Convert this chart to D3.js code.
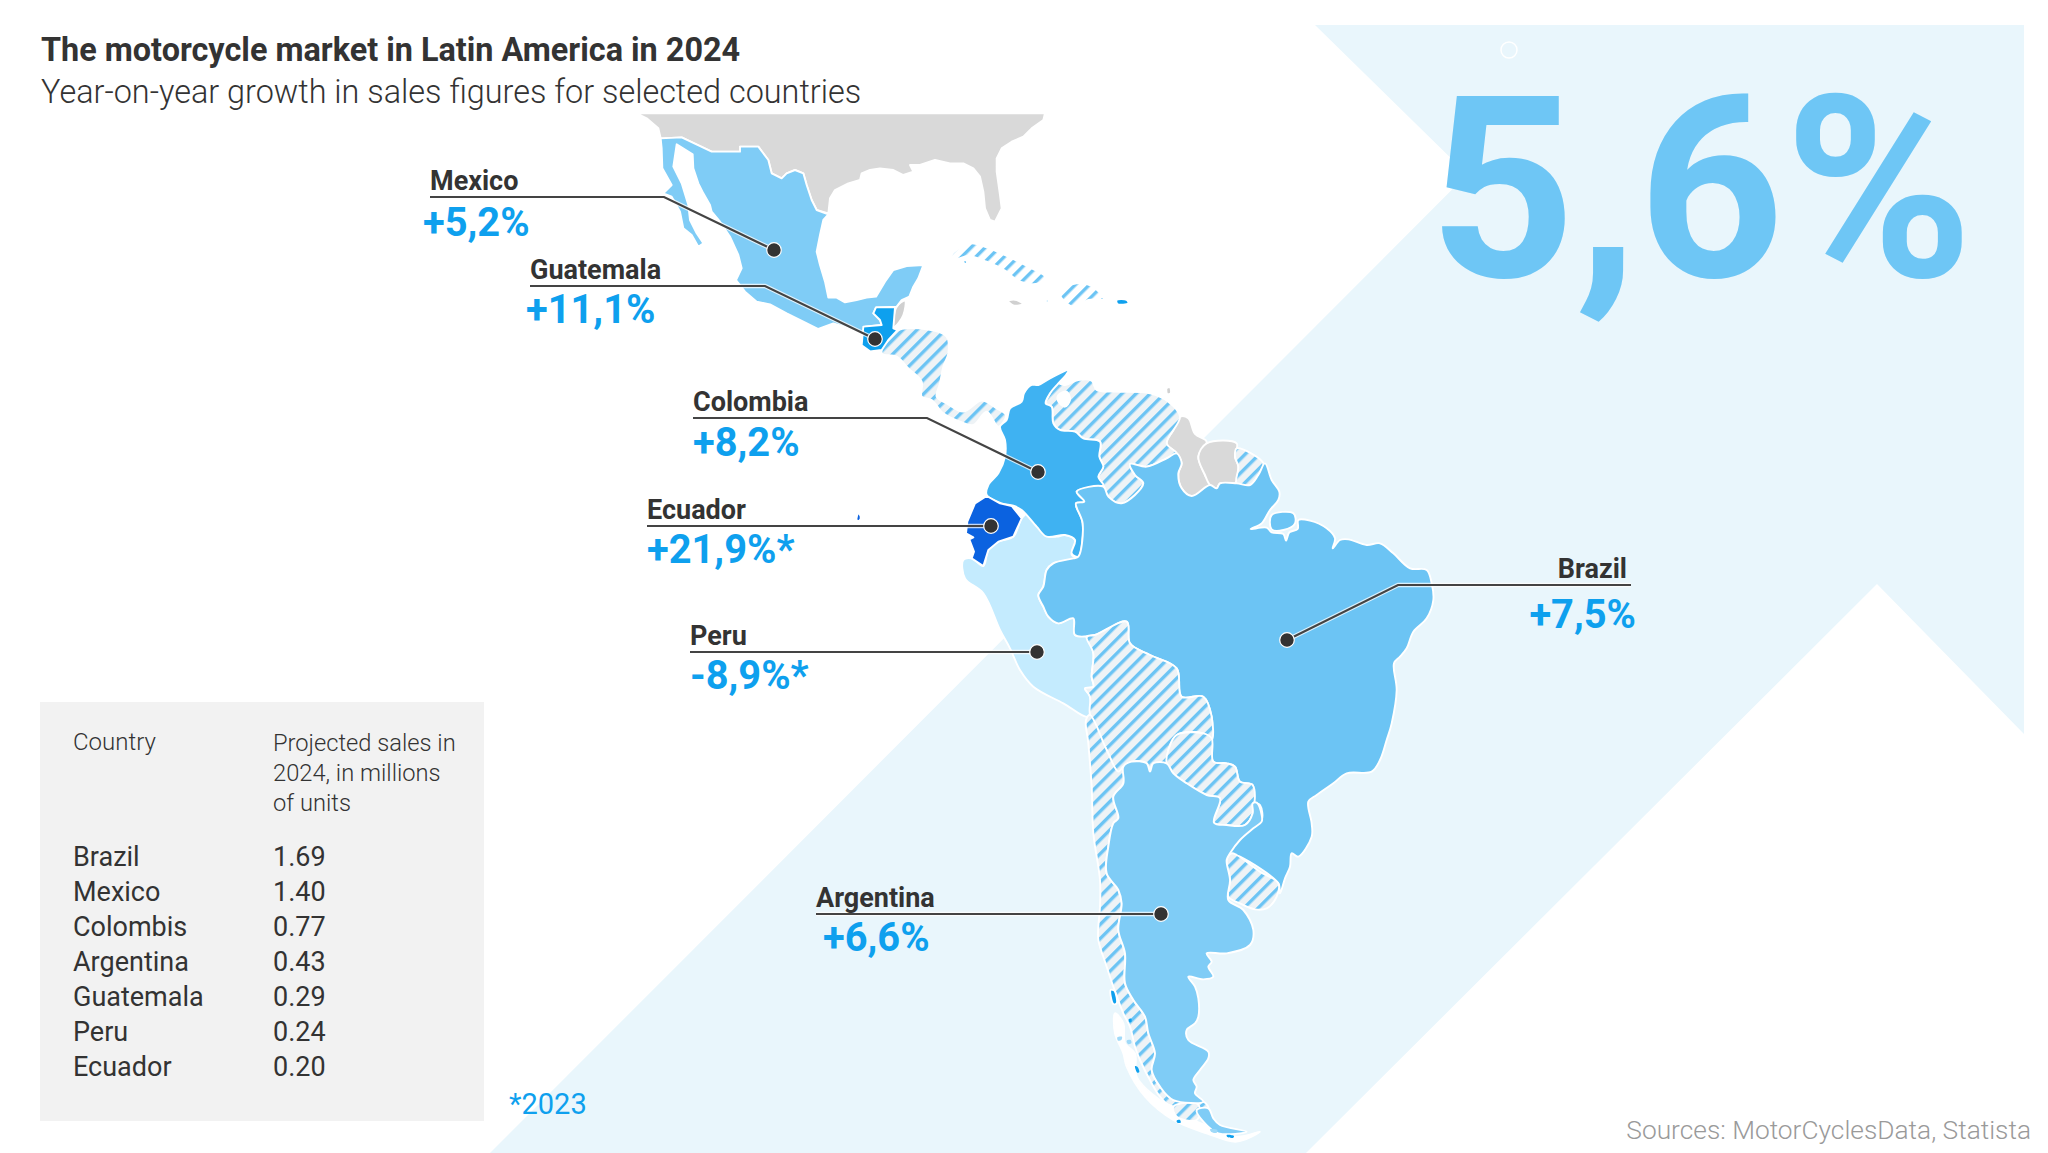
<!DOCTYPE html>
<html>
<head>
<meta charset="utf-8">
<script src="https://cdn.jsdelivr.net/npm/d3@7"></script>
<style>
  html, body { margin: 0; padding: 0; background: #fff; }
  text { font-family: Roboto, sans-serif; }
</style>
</head>
<body>
<svg id="chart" width="2048" height="1153"></svg>
<script>
// Values as printed in the graphic
var overallGrowth = "5,6%";
var calloutCountries = ["Mexico", "Guatemala", "Colombia", "Ecuador", "Peru", "Brazil", "Argentina"];
var calloutGrowth = [5.2, 11.1, 8.2, 21.9, -8.9, 7.5, 6.6];
var calloutIs2023 = [false, false, false, true, true, false, false];

var tableCountries = ["Brazil", "Mexico", "Colombis", "Argentina", "Guatemala", "Peru", "Ecuador"];
var tableSales = [1.69, 1.40, 0.77, 0.43, 0.29, 0.24, 0.20];

// Country outlines on a 6144 x 3459 grid
var usa = [[1910,340],[3135,340],[3130,360],[3095,385],[3070,410],[3035,425],[3005,445],[2990,475],[2990,515],[3000,585],[3005,625],[2985,665],[2970,660],[2955,625],[2950,575],[2940,530],[2920,505],[2890,490],[2850,490],[2805,480],[2760,495],[2730,495],[2740,515],[2710,525],[2680,510],[2640,505],[2610,510],[2585,520],[2580,540],[2545,550],[2505,570],[2490,595],[2485,640],[2450,630],[2435,600],[2420,555],[2410,520],[2385,510],[2360,520],[2345,535],[2315,520],[2305,480],[2275,440],[2220,440],[2220,455],[2135,455],[2045,412],[1982,415],[1975,385],[1940,355]];
var mexico = [[1982,415],[2045,412],[2135,455],[2220,455],[2220,440],[2275,440],[2305,480],[2315,520],[2345,535],[2360,520],[2385,510],[2410,520],[2420,555],[2435,600],[2450,630],[2485,643],[2470,660],[2460,705],[2450,755],[2460,795],[2475,845],[2485,893],[2510,893],[2535,907],[2570,900],[2600,893],[2628,890],[2655,845],[2680,810],[2720,798],[2770,795],[2755,835],[2740,860],[2728,890],[2705,900],[2690,920],[2628,922],[2620,940],[2640,960],[2645,975],[2595,980],[2590,1003],[2550,985],[2500,970],[2455,987],[2410,965],[2360,940],[2310,913],[2270,905],[2235,875],[2208,840],[2225,805],[2215,765],[2190,710],[2160,665],[2135,635],[2130,615],[2110,580],[2095,550],[2080,505],[2078,463],[2030,433],[2020,500],[2045,550],[2065,615],[2070,660],[2090,700],[2110,730],[2095,740],[2075,705],[2050,685],[2040,635],[2015,590],[1990,580],[2015,555],[1987,505],[1985,445]];
var guatemala = [[2628,922],[2685,922],[2680,985],[2693,990],[2665,1020],[2645,1050],[2610,1054],[2585,1036],[2590,980],[2645,975],[2640,960],[2620,940]];
var belize = [[2690,920],[2715,902],[2710,945],[2685,980],[2680,980]];
var centralAmerica = [[2685,995],[2780,988],[2840,1010],[2845,1060],[2830,1100],[2820,1150],[2810,1190],[2840,1210],[2890,1235],[2945,1202],[2990,1225],[3018,1245],[2995,1280],[2960,1235],[2920,1275],[2880,1265],[2830,1240],[2795,1200],[2765,1190],[2765,1145],[2725,1105],[2690,1070],[2645,1060]];
var cuba = [[2855,765],[2910,730],[2960,742],[3020,768],[3085,800],[3135,830],[3115,850],[3060,845],[3015,812],[2960,785],[2905,768],[2865,778]];
var hispaniola = [[3180,875],[3230,850],[3275,858],[3310,895],[3265,900],[3220,920],[3185,895]];
var jamaica = [[3025,902],[3050,900],[3068,912],[3040,916]];
var puertoRico = [[3350,900],[3380,900],[3385,910],[3352,912]];
var trinidad = [[3500,1165],[3510,1162],[3512,1180],[3502,1182]];
var isleOfYouth = [[2890,782],[2900,782],[2900,790],[2892,790]];
var bahamasDots = [[[3138,900],[3146,900],[3146,906],[3138,906]], [[3172,903],[3182,903],[3182,907],[3172,907]], [[3302,892],[3310,892],[3310,898],[3302,898]]];
var colombia = [[3205,1110],[3150,1135],[3115,1155],[3095,1155],[3072,1180],[3065,1205],[3030,1225],[3020,1260],[3000,1280],[3015,1320],[3015,1370],[2995,1420],[2965,1455],[2960,1485],[3005,1510],[3040,1517],[3065,1530],[3110,1580],[3140,1610],[3195,1605],[3225,1620],[3215,1660],[3235,1670],[3248,1570],[3228,1510],[3253,1505],[3230,1475],[3290,1460],[3310,1455],[3295,1430],[3310,1400],[3298,1370],[3300,1325],[3250,1315],[3225,1295],[3180,1290],[3160,1270],[3155,1220],[3137,1210],[3150,1180],[3175,1150],[3200,1122]];
var venezuela = [[3137,1210],[3155,1220],[3160,1270],[3180,1290],[3225,1295],[3250,1315],[3300,1325],[3298,1370],[3310,1400],[3295,1430],[3310,1455],[3325,1490],[3365,1510],[3430,1450],[3405,1425],[3390,1392],[3440,1400],[3500,1375],[3530,1360],[3500,1330],[3540,1250],[3505,1205],[3450,1180],[3350,1175],[3290,1170],[3275,1142],[3235,1140],[3195,1155],[3170,1150],[3150,1180]];
var lakeMaracaibo = [[3175,1185],[3200,1175],[3210,1200],[3195,1220],[3175,1205]];
var guyana = [[3540,1250],[3565,1255],[3585,1302],[3620,1325],[3595,1370],[3615,1425],[3630,1455],[3575,1488],[3545,1465],[3535,1420],[3545,1390],[3530,1360],[3500,1330],[3520,1290]];
var suriname = [[3620,1330],[3710,1330],[3705,1370],[3715,1400],[3705,1450],[3660,1450],[3650,1465],[3630,1455],[3615,1425],[3595,1370]];
var frenchGuiana = [[3710,1345],[3790,1390],[3775,1425],[3750,1455],[3710,1450],[3715,1400],[3705,1370]];
var brazil = [[3795,1390],[3815,1440],[3838,1475],[3835,1500],[3810,1530],[3785,1570],[3752,1587],[3800,1583],[3815,1597],[3850,1602],[3858,1622],[3868,1597],[3893,1587],[3895,1560],[3930,1562],[3980,1585],[4005,1615],[3998,1645],[4020,1620],[4045,1618],[4100,1635],[4140,1630],[4180,1660],[4230,1705],[4280,1710],[4295,1750],[4300,1800],[4280,1855],[4240,1895],[4220,1945],[4200,1970],[4182,1990],[4190,2070],[4175,2170],[4160,2220],[4140,2280],[4115,2315],[4040,2320],[4000,2350],[3950,2385],[3925,2405],[3935,2470],[3935,2510],[3895,2570],[3875,2560],[3870,2600],[3855,2635],[3840,2680],[3835,2650],[3720,2570],[3690,2560],[3725,2510],[3760,2475],[3785,2460],[3780,2415],[3760,2405],[3758,2355],[3720,2345],[3705,2300],[3680,2290],[3640,2285],[3635,2215],[3635,2150],[3610,2090],[3545,2090],[3530,2005],[3450,1965],[3390,1930],[3380,1865],[3285,1905],[3225,1905],[3220,1855],[3175,1870],[3145,1850],[3130,1820],[3115,1785],[3130,1760],[3140,1710],[3160,1690],[3220,1675],[3235,1670],[3248,1570],[3228,1510],[3253,1505],[3230,1475],[3310,1460],[3325,1490],[3365,1510],[3430,1450],[3405,1425],[3390,1392],[3440,1400],[3500,1375],[3530,1360],[3545,1390],[3535,1420],[3545,1465],[3575,1488],[3630,1455],[3650,1465],[3660,1450],[3710,1450],[3750,1455],[3775,1425]];
var marajo = [[3815,1545],[3880,1540],[3885,1570],[3850,1590],[3815,1588]];
var peru = [[2890,1680],[2915,1675],[2950,1698],[2965,1650],[2995,1625],[3040,1610],[3065,1555],[3085,1540],[3135,1605],[3170,1610],[3195,1605],[3225,1620],[3215,1665],[3230,1675],[3160,1690],[3140,1710],[3130,1760],[3115,1785],[3130,1820],[3145,1850],[3175,1870],[3220,1855],[3225,1905],[3260,1910],[3280,1960],[3275,2030],[3280,2060],[3255,2065],[3270,2090],[3265,2150],[3190,2110],[3100,2060],[3060,2010],[3030,1945],[3000,1890],[2950,1780],[2895,1735]];
var ecuador = [[2960,1488],[3000,1510],[3035,1518],[3065,1555],[3040,1610],[2995,1625],[2965,1650],[2950,1698],[2915,1675],[2922,1655],[2908,1618],[2920,1612],[2898,1600],[2902,1565],[2925,1510]];
var galapagos = [[2575,1540],[2582,1550],[2578,1562],[2570,1560]];
var bolivia = [[3260,1910],[3285,1905],[3380,1865],[3390,1930],[3450,1965],[3530,2005],[3545,2090],[3610,2090],[3635,2150],[3635,2220],[3610,2200],[3530,2205],[3505,2250],[3500,2290],[3460,2290],[3450,2315],[3440,2290],[3395,2285],[3355,2315],[3320,2250],[3270,2145],[3270,2090],[3255,2065],[3280,2060],[3275,2030],[3280,1960]];
var paraguay = [[3505,2250],[3530,2205],[3610,2200],[3635,2215],[3640,2285],[3680,2290],[3705,2300],[3720,2345],[3758,2355],[3758,2440],[3735,2475],[3680,2475],[3642,2468],[3660,2395],[3620,2385],[3560,2350],[3520,2320],[3500,2290]];
var uruguay = [[3695,2560],[3710,2565],[3780,2615],[3835,2650],[3830,2690],[3800,2725],[3765,2728],[3720,2710],[3685,2690],[3690,2640],[3680,2580]];
var argentina = [[3370,2300],[3395,2285],[3440,2290],[3450,2315],[3460,2290],[3500,2290],[3520,2320],[3560,2350],[3620,2385],[3660,2395],[3642,2468],[3680,2475],[3735,2475],[3758,2440],[3758,2410],[3770,2408],[3785,2445],[3785,2465],[3760,2485],[3720,2520],[3690,2560],[3680,2580],[3690,2640],[3685,2700],[3730,2730],[3760,2790],[3750,2835],[3680,2860],[3620,2860],[3635,2885],[3625,2900],[3640,2930],[3610,2938],[3565,2930],[3585,2960],[3595,2995],[3595,3050],[3585,3070],[3560,3090],[3565,3120],[3625,3155],[3625,3175],[3600,3210],[3580,3240],[3590,3260],[3585,3280],[3610,3305],[3520,3300],[3480,3260],[3455,3210],[3465,3160],[3445,3100],[3435,3050],[3400,3000],[3375,2950],[3375,2860],[3355,2790],[3365,2710],[3355,2670],[3320,2620],[3325,2540],[3340,2470],[3355,2455],[3340,2390],[3370,2350]];
var fuegoArgentina = [[3590,3330],[3625,3325],[3640,3355],[3660,3375],[3740,3395],[3655,3400],[3610,3365]];
var chile = [[3270,2145],[3320,2250],[3355,2315],[3370,2300],[3370,2350],[3340,2390],[3355,2455],[3340,2470],[3325,2540],[3320,2620],[3355,2670],[3365,2710],[3355,2790],[3375,2860],[3375,2950],[3400,3000],[3435,3050],[3445,3100],[3465,3160],[3455,3210],[3480,3260],[3520,3300],[3610,3305],[3625,3325],[3520,3325],[3480,3290],[3455,3250],[3420,3180],[3405,3140],[3390,3080],[3370,3040],[3340,2960],[3320,2900],[3295,2820],[3295,2780],[3300,2720],[3300,2640],[3280,2500],[3275,2360],[3265,2230],[3258,2160]];
var chileIslands = [[3345,3040],[3370,3070],[3375,3130],[3405,3160],[3410,3230],[3480,3300],[3540,3330],[3580,3360],[3630,3380],[3710,3410],[3780,3395],[3710,3425],[3620,3400],[3520,3360],[3435,3290],[3380,3200],[3370,3160],[3345,3100]];
var fuegoChile = [[3520,3320],[3590,3310],[3600,3330],[3590,3360],[3530,3350]];
var lakeGeneralCarrera = [[3332,2970],[3343,2972],[3350,3010],[3340,3012]];
var islandBitsPale = [[[3352,3112],[3366,3110],[3364,3120],[3354,3122]], [[3380,3122],[3392,3120],[3394,3130],[3384,3132]], [[3630,3388],[3652,3390],[3650,3398],[3634,3396]]];
var islandBitsBright = [[[3386,3058],[3394,3056],[3394,3066],[3388,3066]], [[3405,3198],[3412,3200],[3418,3216],[3412,3218]], [[3530,3362],[3540,3360],[3542,3368],[3532,3368]], [[3680,3405],[3702,3408],[3700,3413],[3682,3411]]];

// Background chevron, same grid
var chevron = [[3945,75],[6072,75],[6072,2202],[5631,1752],[3918,3459],[1470,3459],[4402,523]];

// Order is important: drawn last is on top
var shapes = [
    { points: usa, fill: "#d9d9d9", sharp: true },
    { points: belize, fill: "#d0d0d0" },
    { points: jamaica, fill: "#d0d0d0" },
    { points: trinidad, fill: "#d0d0d0" },
    { points: guyana, fill: "#d9d9d9" },
    { points: suriname, fill: "#d9d9d9" },
    { points: centralAmerica, fill: "url(#hatch)" },
    { points: cuba, fill: "url(#hatchBare)" },
    { points: hispaniola, fill: "url(#hatchBare)" },
    { points: isleOfYouth, fill: "#6cc4f4" },
    { points: bahamasDots[0], fill: "#6cc4f4" },
    { points: bahamasDots[1], fill: "#6cc4f4" },
    { points: bahamasDots[2], fill: "#6cc4f4" },
    { points: puertoRico, fill: "#0ea0ee" },
    { points: venezuela, fill: "url(#hatch)" },
    { points: lakeMaracaibo, fill: "#fff" },
    { points: frenchGuiana, fill: "url(#hatch)" },
    { points: peru, fill: "#c4ebfe" },
    { points: colombia, fill: "#3fb2f2" },
    { points: brazil, fill: "#6cc4f4" },
    { points: marajo, fill: "#6cc4f4" },
    { points: bolivia, fill: "url(#hatch)" },
    { points: paraguay, fill: "url(#hatch)" },
    { points: uruguay, fill: "url(#hatch)" },
    { points: chile, fill: "url(#hatch)" },
    { points: chileIslands, fill: "#fff" },
    { points: fuegoChile, fill: "url(#hatch)" },
    { points: argentina, fill: "#7fccf6" },
    { points: fuegoArgentina, fill: "#7fccf6" },
    { points: mexico, fill: "#7fccf6", sharp: true },
    { points: guatemala, fill: "#0ea0ee", sharp: true },
    { points: ecuador, fill: "#0b62e0", sharp: true },
    { points: galapagos, fill: "#0b62e0" },
    { points: lakeGeneralCarrera, fill: "#0ea0ee" }
];
islandBitsPale.forEach(function (p) { shapes.push({ points: p, fill: "#9fd9f8", bare: true }); });
islandBitsBright.forEach(function (p) { shapes.push({ points: p, fill: "#0ea0ee", bare: true }); });

// Callout layout: label start, elbow and dot on the 2048 px page
var calloutLabelX = [430, 530, 693, 647, 690, 1627, 816];
var calloutValueX = [423, 526, 693, 647, 690, 1636, 823];
var calloutLineY = [197, 286, 418, 526, 652, 585, 914];
var calloutValueY = [236, 323, 456, 563, 689, 628, 951];
var calloutLineEnd = [664, 765, 927, 991, 1037, 1398, 1161];
var calloutDotX = [774, 875, 1038, 991, 1037, 1287, 1161];
var calloutDotY = [250, 339, 472, 526, 652, 640, 914];
var calloutRight = [false, false, false, false, false, true, false];
var calloutLineStart = [430, 530, 693, 647, 690, 1631, 816];

var svg = d3.select("#chart");
var dark = "#333", blue = "#0ea0ee";

// Grid to page
var gridX = d3.scaleLinear().domain([0, 6144]).range([0, 2048]);
var gridY = d3.scaleLinear().domain([0, 3459]).range([0, 1153]);
var outline = d3.line()
    .x(function (d) { return gridX(d[0]); })
    .y(function (d) { return gridY(d[1]); })
    .curve(d3.curveLinearClosed);
var softOutline = d3.line()
    .x(function (d) { return gridX(d[0]); })
    .y(function (d) { return gridY(d[1]); })
    .curve(d3.curveCatmullRomClosed.alpha(0.5));

// Hatching for countries without figures
var defs = svg.append("defs");
function addHatch(id, ground) {
    var p = defs.append("pattern")
        .attr("id", id)
        .attr("patternUnits", "userSpaceOnUse")
        .attr("width", 10).attr("height", 10)
        .attr("patternTransform", "rotate(45)");
    p.append("rect").attr("width", 10).attr("height", 10).attr("fill", ground);
    p.append("rect").attr("width", 3.4).attr("height", 10).attr("fill", "#6cc4f4");
}
addHatch("hatch", "#eef3f6");
addHatch("hatchBare", "#fff");

svg.append("path")
    .attr("d", outline(chevron))
    .attr("fill", "#e9f6fc");

svg.append("circle")
    .attr("cx", 1509).attr("cy", 50).attr("r", 8)
    .attr("fill", "none").attr("stroke", "#fff").attr("stroke-width", 1.5);

svg.append("text")
    .attr("x", 1429).attr("y", 277)
    .attr("font-size", 255).attr("font-weight", 700)
    .attr("fill", "#6ec6f5")
    .text(overallGrowth);

svg.append("g").attr("class", "map")
    .selectAll("path")
    .data(shapes)
    .join("path")
    .attr("d", function (d) { return d.sharp ? outline(d.points) : softOutline(d.points); })
    .attr("fill", function (d) { return d.fill; })
    .attr("stroke", function (d) { return d.bare ? "none" : "#fff"; })
    .attr("stroke-width", 1.9)
    .attr("stroke-linejoin", "round");

// Title
svg.append("text")
    .attr("x", 41).attr("y", 60.7)
    .attr("font-size", 32.4).attr("font-weight", 700).attr("fill", dark)
    .text("The motorcycle market in Latin America in 2024");
svg.append("text")
    .attr("x", 41).attr("y", 102.7)
    .attr("font-size", 32.4).attr("font-weight", 300).attr("fill", dark)
    .text("Year-on-year growth in sales figures for selected countries");

// Callouts
function growthLabel(i) {
    var v = calloutGrowth[i];
    var s = (v > 0 ? "+" : "") + d3.format(".1f")(v).replace(".", ",").replace("\u2212", "-") + "%";
    return calloutIs2023[i] ? s + "*" : s;
}

var callouts = svg.append("g").attr("class", "callouts")
    .selectAll("g")
    .data(calloutCountries)
    .join("g");

function leaderPoints(i) {
    return [
        [calloutLineStart[i], calloutLineY[i]],
        [calloutLineEnd[i], calloutLineY[i]],
        [calloutDotX[i], calloutDotY[i]]
    ];
}

callouts.append("path")
    .attr("d", function (d, i) { return d3.line()(leaderPoints(i)); })
    .attr("fill", "none").attr("stroke", "#fff").attr("stroke-opacity", 0.75).attr("stroke-width", 4.5);
callouts.append("path")
    .attr("d", function (d, i) { return d3.line()(leaderPoints(i)); })
    .attr("fill", "none").attr("stroke", "#444").attr("stroke-width", 2.2);
callouts.append("circle")
    .attr("cx", function (d, i) { return calloutDotX[i]; })
    .attr("cy", function (d, i) { return calloutDotY[i]; })
    .attr("r", 7.3)
    .attr("fill", dark).attr("stroke", "#fff").attr("stroke-width", 1.2);
callouts.append("text")
    .attr("x", function (d, i) { return calloutLabelX[i]; })
    .attr("y", function (d, i) { return calloutLineY[i] - 7; })
    .attr("text-anchor", function (d, i) { return calloutRight[i] ? "end" : "start"; })
    .attr("font-size", 27).attr("font-weight", 700).attr("fill", dark)
    .text(function (d) { return d; });
callouts.append("text")
    .attr("x", function (d, i) { return calloutValueX[i]; })
    .attr("y", function (d, i) { return calloutValueY[i]; })
    .attr("text-anchor", function (d, i) { return calloutRight[i] ? "end" : "start"; })
    .attr("font-size", 39.8).attr("font-weight", 700).attr("fill", blue)
    .text(function (d, i) { return growthLabel(i); });

// Table
svg.append("rect")
    .attr("x", 40).attr("y", 702).attr("width", 444).attr("height", 419)
    .attr("fill", "#f2f2f2");

svg.append("text")
    .attr("x", 73).attr("y", 750)
    .attr("font-size", 24).attr("font-weight", 300).attr("fill", dark)
    .text("Country");
svg.append("text")
    .attr("font-size", 23.7).attr("font-weight", 300).attr("fill", dark)
    .selectAll("tspan")
    .data(["Projected sales in", "2024, in millions", "of units"])
    .join("tspan")
    .attr("x", 273)
    .attr("y", function (d, i) { return 751 + i * 30; })
    .text(function (d) { return d; });

var rowY = d3.scalePoint().domain(tableCountries).range([866, 1076]);
var rows = svg.append("g").attr("class", "rows")
    .selectAll("g")
    .data(tableCountries)
    .join("g");
rows.append("text")
    .attr("x", 73)
    .attr("y", function (d) { return rowY(d); })
    .attr("font-size", 27).attr("fill", dark)
    .text(function (d) { return d; });
rows.append("text")
    .attr("x", 273)
    .attr("y", function (d) { return rowY(d); })
    .attr("font-size", 27).attr("fill", dark)
    .text(function (d, i) { return d3.format(".2f")(tableSales[i]); });

// Footnotes
svg.append("text")
    .attr("x", 509).attr("y", 1114)
    .attr("font-size", 29).attr("fill", blue)
    .text("*2023");
svg.append("text")
    .attr("x", 2031).attr("y", 1139)
    .attr("text-anchor", "end")
    .attr("font-size", 26.3).attr("font-weight", 300).attr("fill", "#9a9a9a")
    .text("Sources: MotorCyclesData, Statista");
</script>
</body>
</html>
